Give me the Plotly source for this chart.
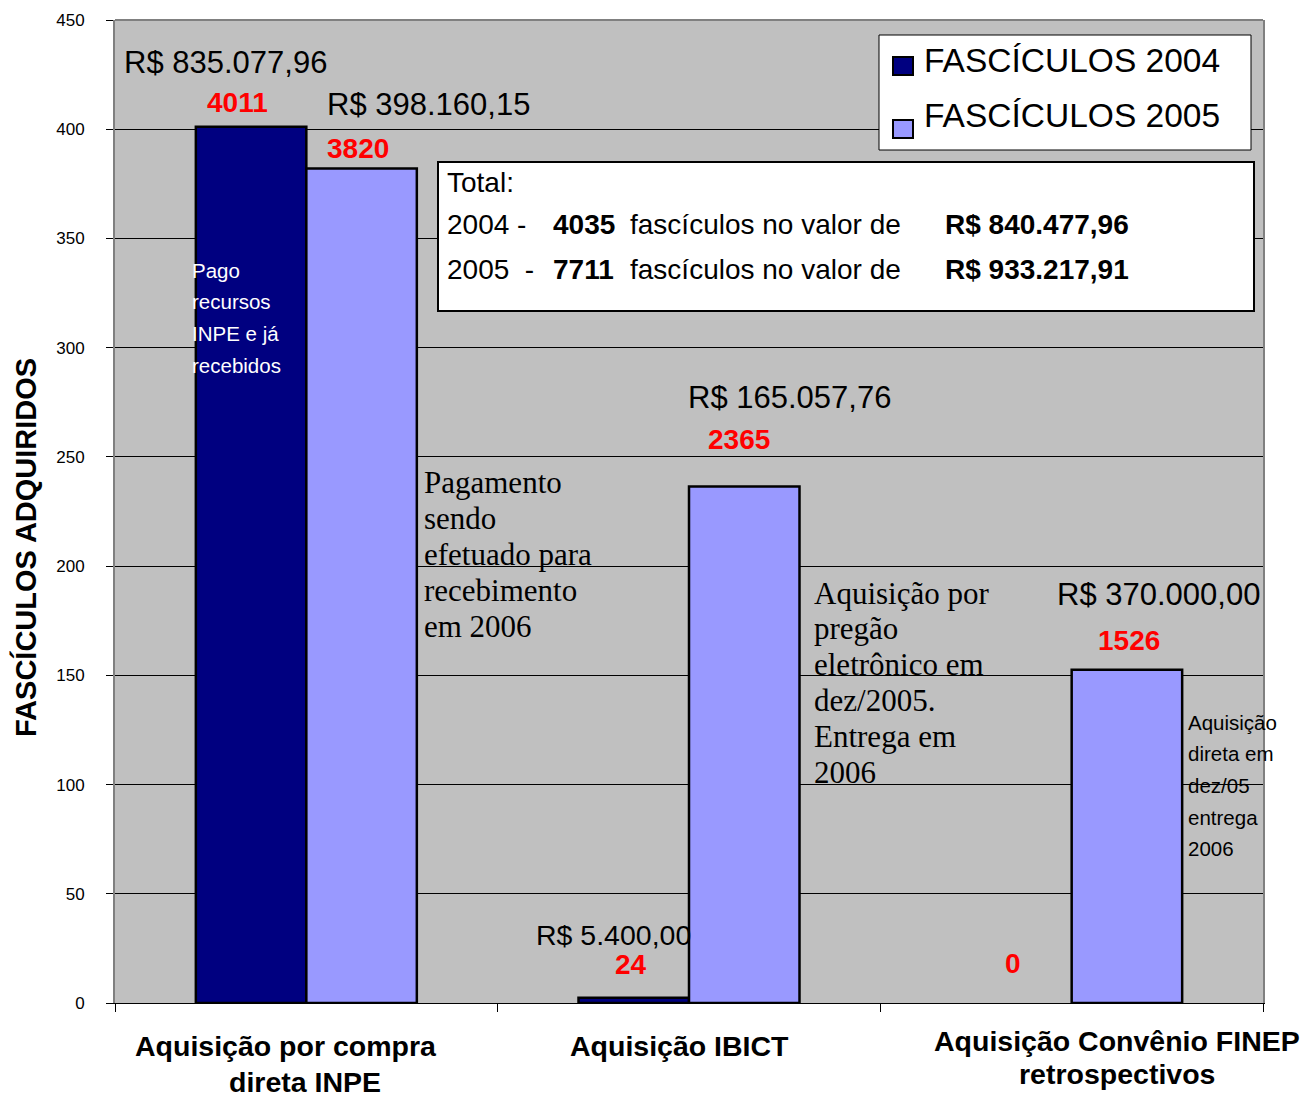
import plotly.graph_objects as go

# ---------------- data ----------------
categories = ["Aquisição por compra direta INPE", "Aquisição IBICT",
              "Aquisição Convênio FINEP retrospectivos"]
category_label_lines = [["Aquisição por compra", "direta INPE"],
                        ["Aquisição IBICT"],
                        ["Aquisição Convênio FINEP", "retrospectivos"]]
series_names = ["FASCÍCULOS 2004", "FASCÍCULOS 2005"]
fasc_2004 = [4011, 24, 0]
fasc_2005 = [3820, 2365, 1526]
cost_2004 = ["R$ 835.077,96", "R$ 5.400,00", ""]
cost_2005 = ["R$ 398.160,15", "R$ 165.057,76", "R$ 370.000,00"]
total_years = ["2004 -", "2005  -"]
total_counts = [4035, 7711]
total_values = ["R$ 840.477,96", "R$ 933.217,91"]
note_inpe = ["Pago", "recursos", "INPE e já", "recebidos"]
note_pag = ["Pagamento", "sendo", "efetuado para", "recebimento", "em 2006"]
note_ibict = ["Aquisição por", "pregão", "eletrônico em", "dez/2005.", "Entrega em", "2006"]
note_finep = ["Aquisição", "direta em", "dez/05", "entrega", "2006"]
y_ticks = [0, 50, 100, 150, 200, 250, 300, 350, 400, 450]
y_title = "FASCÍCULOS ADQUIRIDOS"
SCALE = 10  # bars plotted as count / 10 on the 0-450 axis

# ---------------- style ----------------
SANS = "Liberation Sans, Arial, sans-serif"
SERIF = "Liberation Serif, Times New Roman, serif"
C2004 = "#000080"
C2005 = "#9999FF"
colors = [C2004, C2005]

L, R, T, B = 115, 1263, 20, 1003
W, H = R - L, B - T


def px(x):
    return (x - L) / W


def py(y):
    return (B - y) / H


def outline(vals):
    return [2.5 if v > 0 else 0 for v in vals]


fig = go.Figure()
fig.add_trace(go.Bar(name=series_names[0], x=categories, y=[v / SCALE for v in fasc_2004],
                     marker=dict(color=C2004, line=dict(color="black", width=outline(fasc_2004))),
                     showlegend=False))
fig.add_trace(go.Bar(name=series_names[1], x=categories, y=[v / SCALE for v in fasc_2005],
                     marker=dict(color=C2005, line=dict(color="black", width=outline(fasc_2005))),
                     showlegend=False))

fig.update_layout(
    width=1303, height=1099,
    margin=dict(l=L, r=1303 - R, t=T, b=1099 - B, pad=0),
    paper_bgcolor="white", plot_bgcolor="#C0C0C0",
    barmode="group", bargap=0.4225, bargroupgap=0,
    font=dict(family=SANS, color="black"),
    showlegend=False,
)
fig.update_xaxes(showticklabels=False, ticks="outside", tickson="boundaries",
                 ticklen=8, tickcolor="black", showline=True, linecolor="black",
                 linewidth=1, showgrid=False, range=[-0.5, 2.5])
fig.update_yaxes(range=[0, 450], tickvals=y_ticks, ticks="outside", ticklen=7,
                 tickcolor="black", tickfont=dict(size=17, family=SANS),
                 ticklabelstandoff=18,
                 showgrid=True, gridcolor="black", gridwidth=1,
                 zeroline=True, zerolinecolor="black", zerolinewidth=1,
                 showline=True, linecolor="#808080", linewidth=2, mirror=True)

# top border of plot area
fig.add_shape(type="line", xref="paper", yref="paper", x0=0, x1=1, y0=1, y1=1,
              line=dict(color="#808080", width=2))

# totals box
fig.add_shape(type="rect", xref="paper", yref="paper",
              x0=px(438), x1=px(1254), y0=py(311), y1=py(162),
              fillcolor="white", line=dict(color="black", width=2), layer="above")

# legend box
fig.add_shape(type="rect", xref="paper", yref="paper",
              x0=px(879), x1=px(1251), y0=py(150), y1=py(35),
              fillcolor="white", line=dict(color="black", width=1), layer="above")
for i, c in enumerate(colors):
    yc = 66 + i * 63
    fig.add_shape(type="rect", xref="paper", yref="paper",
                  x0=px(893), x1=px(913), y0=py(yc + 9), y1=py(yc - 9),
                  fillcolor=c, line=dict(color="black", width=2), layer="above")


def ann(text, x, y, size, color="black", bold=False, anchor="left", family=SANS, angle=0):
    fig.add_annotation(text=f"<b>{text}</b>" if bold else text,
                       x=px(x), y=py(y), xref="paper", yref="paper",
                       xanchor=anchor, yanchor="middle", showarrow=False,
                       textangle=angle,
                       font=dict(size=size, color=color, family=family))


# legend text
for i, name in enumerate(series_names):
    ann(name, 922, 60 + i * 56, 33.5)

# cost labels
ann(cost_2004[0], 122, 62, 31)
ann(cost_2005[0], 325, 104, 31)
ann(cost_2005[1], 789, 397, 31, anchor="center")
ann(cost_2005[2], 1158, 594, 31, anchor="center")
ann(cost_2004[1], 613, 935, 28.5, anchor="center")

# count labels (red)
ann(str(fasc_2004[0]), 237, 102, 28, color="red", bold=True, anchor="center")
ann(str(fasc_2005[0]), 358, 148, 28, color="red", bold=True, anchor="center")
ann(str(fasc_2005[1]), 739, 439, 28, color="red", bold=True, anchor="center")
ann(str(fasc_2005[2]), 1129, 640, 28, color="red", bold=True, anchor="center")
ann(str(fasc_2004[1]), 631, 964, 28, color="red", bold=True, anchor="center")
ann(str(fasc_2004[2]), 1013, 963, 28, color="red", bold=True, anchor="center")

# notes
for i, line in enumerate(note_inpe):
    ann(line, 190, 270 + i * 31.7, 20.5, color="white")
for i, line in enumerate(note_pag):
    ann(line, 422, 482 + i * 36, 31, family=SERIF)
for i, line in enumerate(note_ibict):
    ann(line, 812, 593 + i * 35.8, 31, family=SERIF)
for i, line in enumerate(note_finep):
    ann(line, 1186, 722 + i * 31.7, 20.5)

# totals text
ann("Total:", 445, 182, 28)
for i in range(2):
    yy = 225 + i * 44
    ann(total_years[i], 445, yy, 28)
    ann(str(total_counts[i]), 551, yy, 28, bold=True)
    ann("fascículos no valor de", 628, yy, 28)
    ann(total_values[i], 943, yy, 28, bold=True)

# category labels
cat_pos = [[(286, 1046), (305, 1082)], [(679, 1046)], [(1117, 1041), (1117, 1074)]]
for lines, poss in zip(category_label_lines, cat_pos):
    for line, (x, y) in zip(lines, poss):
        ann(line, x, y, 28.5, bold=True, anchor="center")

# y-axis title
ann(y_title, 25, 548, 29, bold=True, anchor="center", angle=-90)

fig.write_html("out.html", config={"displayModeBar": False},
               post_script="document.body.style.margin='0';document.body.style.overflow='hidden';")
